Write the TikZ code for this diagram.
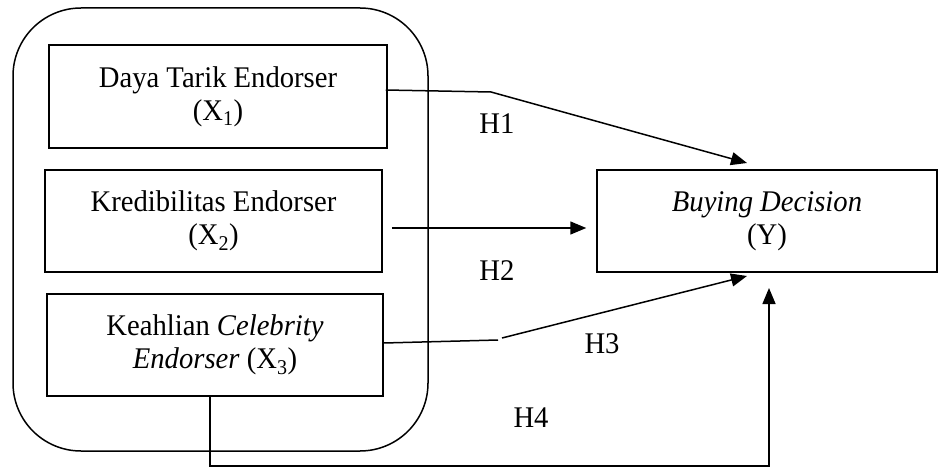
\documentclass[tikz,border=0pt]{standalone}
\usepackage{fontspec}
\setmainfont{Liberation Serif}[FakeStretch=0.955]
\usetikzlibrary{arrows.meta,calc}
\begin{document}
\begin{tikzpicture}[x=1pt,y=-1pt,
  txt/.style={font=\fontsize{30}{33}\selectfont},
  box/.style={txt, draw, line width=1.5pt, align=center, inner sep=0pt},
  conn/.style={line width=1.5pt},
  arr/.style={conn, -{Triangle[length=16pt,width=13pt]}}]
\useasboundingbox (0,0) rectangle (939,468);
\node[draw, line width=1.5pt, rounded corners=68pt, minimum width=415pt, minimum height=443pt] (grp) at (220.5,229.5) {};
\node[box, minimum width=338pt, minimum height=103pt] (b1) at (218,96.5) {Daya Tarik Endorser\\(X\textsubscript{1})};
\node[box, minimum width=337pt, minimum height=102pt] (b2) at (213.5,221) {Kredibilitas Endorser\\(X\textsubscript{2})};
\node[box, minimum width=336pt, minimum height=102pt] (b3) at (215,345) {Keahlian \textit{Celebrity}\\\textit{Endorser} (X\textsubscript{3})};
\node[box, minimum width=340pt, minimum height=102pt] (y) at (767,221) {\textit{Buying Decision}\\(Y)};
\coordinate (h1m) at (491,92);
\coordinate (h1t) at (747,163);
\coordinate (h3a) at (498,340);
\coordinate (h3b) at (502,338);
\coordinate (h3t) at (747,276);
\coordinate (h4c) at (769,466);
\coordinate (h4t) at (769,288);
\draw[arr] ($(b1.east)+(-2,-6.5)$) -- (h1m) -- (h1t);
\draw[arr, shorten <=9pt, shorten >=10pt] ($(b2.east)+(0,7)$) -- ($(y.west)+(0,7)$);
\draw[conn] ($(b3.east)+(0,-2)$) -- (h3a);
\draw[arr] (h3b) -- (h3t);
\draw[arr] ($(b3.south)+(-5,0)$) |- (h4c) -- (h4t);
\node[txt, anchor=base] (l1) at (497,133) {H1};
\node[txt, anchor=base] (l2) at (497,280) {H2};
\node[txt, anchor=base] (l3) at (602,353) {H3};
\node[txt, anchor=base] (l4) at (531,427) {H4};
\end{tikzpicture}
\end{document}
